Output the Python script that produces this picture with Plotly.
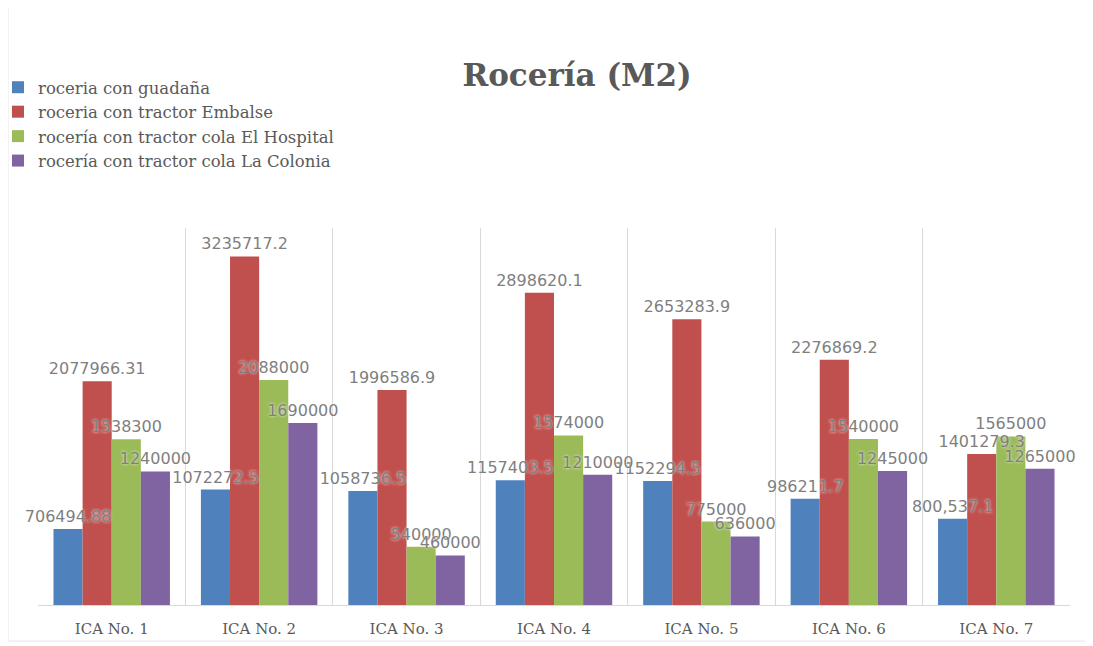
import plotly.graph_objects as go

categories = ["ICA No. 1", "ICA No. 2", "ICA No. 3", "ICA No. 4", "ICA No. 5", "ICA No. 6", "ICA No. 7"]

guadana = [706494.88, 1072272.5, 1058736.5, 1157403.5, 1152294.5, 986211.7, 800537.1]
guadana_labels = ["706494.88", "1072272.5", "1058736.5", "1157403.5", "1152294.5", "986211.7", "800,537.1"]
embalse = [2077966.31, 3235717.2, 1996586.9, 2898620.1, 2653283.9, 2276869.2, 1401279.3]
hospital = [1538300, 2088000, 540000, 1574000, 775000, 1540000, 1565000]
colonia = [1240000, 1690000, 460000, 1210000, 636000, 1245000, 1265000]

series = [
    ("roceria con guadaña", guadana, guadana_labels, "#4F81BD"),
    ("roceria con tractor Embalse", embalse, [str(v) for v in embalse], "#C0504D"),
    ("rocería con tractor cola El Hospital", hospital, [str(v) for v in hospital], "#9BBB59"),
    ("rocería con tractor cola La Colonia", colonia, [str(v) for v in colonia], "#8064A2"),
]

fig = go.Figure()
for i, (name, vals, labels, color) in enumerate(series):
    fig.add_trace(go.Bar(
        name=name, x=categories, y=vals, offsetgroup=str(i),
        marker=dict(color=color, line=dict(width=0)),
        hoverinfo="x+y+name",
    ))
# label layer drawn above all bars (same positions via offsetgroup)
for i, (name, vals, labels, color) in enumerate(series):
    fig.add_trace(go.Bar(
        name=name, x=categories, y=vals, offsetgroup=str(i), text=labels,
        textposition="outside", constraintext="none", cliponaxis=False,
        textfont=dict(family="DejaVu Sans", size=16, color="#7f7f7f",
                      shadow="0px 0px 3px rgba(255,255,255,0.9)"),
        marker=dict(color="rgba(0,0,0,0)", line=dict(width=0)),
        showlegend=False, hoverinfo="skip",
    ))

# page has an 8px body margin; work in reference-pixel coordinates
OFF = 8
W, H = 1093 - OFF, 646 - OFF
L, R = 38 - OFF, 1093 - 1070
T, B = 228 - OFF, 646 - 605
pw, ph = W - L - R, H - T - B

def px(x):
    return (x - OFF - L) / pw

def py(y):
    return (H - B - (y - OFF)) / ph

fig.update_layout(
    width=W, height=H,
    margin=dict(l=L, r=R, t=T, b=B, autoexpand=False),
    paper_bgcolor="white", plot_bgcolor="white",
    barmode="group", bargap=0.21, bargroupgap=0,
    title=dict(text="<b>Rocería (M2)</b>", x=(577 - OFF) / W, xanchor="center",
               y=1 - (75 - OFF) / H, yanchor="middle",
               font=dict(family="DejaVu Serif", size=31, color="#595959")),
    legend=dict(x=px(-2), y=py(70), xanchor="left", yanchor="top",
                font=dict(family="DejaVu Serif", size=16.5, color="#595959"),
                bgcolor="rgba(0,0,0,0)", itemwidth=30, tracegroupgap=0),
    showlegend=True,
    font=dict(family="DejaVu Serif", color="#595959"),
    xaxis=dict(showgrid=True, gridcolor="#d9d9d9", gridwidth=1, tickson="boundaries",
               ticks="", showline=True, linecolor="#d9d9d9", linewidth=1, ticklabelstandoff=10,
               tickfont=dict(family="DejaVu Serif", size=15, color="#595959")),
    yaxis=dict(range=[0, 3500000], showgrid=False, zeroline=False, showticklabels=False,
               ticks="", showline=False),
    shapes=[dict(type="rect", xref="paper", yref="paper",
                 x0=px(8), x1=px(1086), y0=py(641), y1=py(6),
                 line=dict(color="#e6e6e6", width=1), fillcolor="rgba(0,0,0,0)", layer="below")],
)

fig.write_html("out.html")
